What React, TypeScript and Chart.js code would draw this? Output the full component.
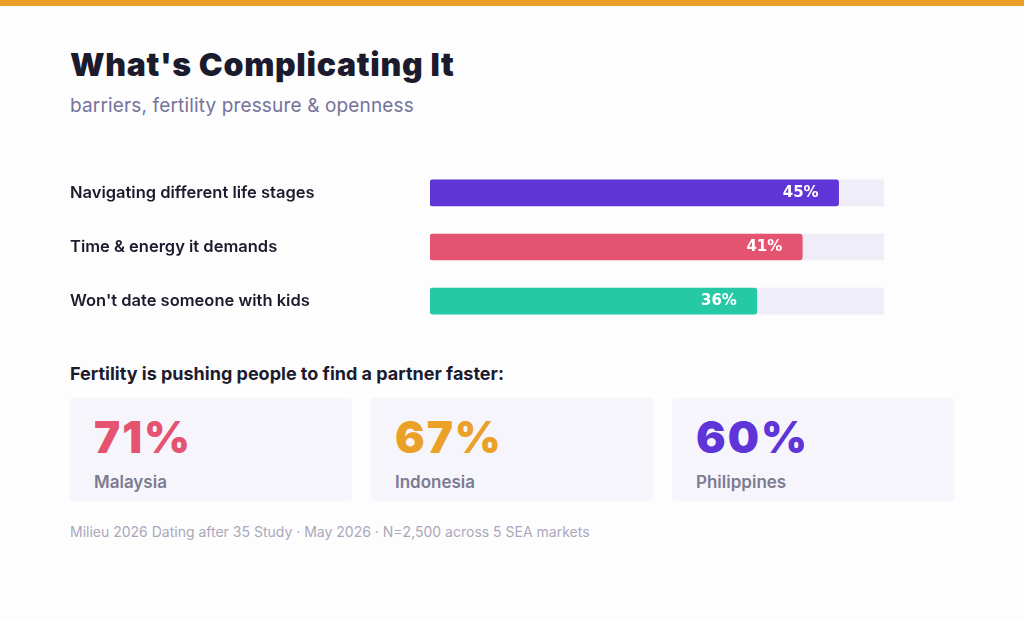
import React, { useEffect, useRef } from "react";
import { Chart, registerables } from "chart.js";

Chart.register(...registerables);

const barLabels = [
  "Navigating different life stages",
  "Time & energy it demands",
  "Won't date someone with kids",
];
const barValues = [45, 41, 36];
const barColors = ["#5F35D8", "#E4536F", "#26C9A6"];
const trackMax = 50;
const trackValues = [trackMax, trackMax, trackMax];

const statValues = [71, 67, 60];
const statCountries = ["Malaysia", "Indonesia", "Philippines"];
const statColors = ["#E4536F", "#EBA028", "#5F35D8"];

const FONT = "Inter, 'Noto Sans', sans-serif";

const valueLabelPlugin = {
  id: "valueLabels",
  afterDatasetsDraw(chart: any) {
    const ctx = chart.ctx;
    const meta = chart.getDatasetMeta(0);
    ctx.save();
    ctx.fillStyle = "#FFFFFF";
    ctx.font = "bold 15px 'DejaVu Sans', sans-serif";
    ctx.textAlign = "right";
    ctx.textBaseline = "middle";
    meta.data.forEach((bar: any, i: number) => {
      ctx.fillText(barValues[i] + "%", bar.x - 20, bar.y);
    });
    ctx.restore();
  },
};

export default function App() {
  const canvasRef = useRef<HTMLCanvasElement | null>(null);

  useEffect(() => {
    if (!canvasRef.current) return;
    const chart = new Chart(canvasRef.current, {
      type: "bar",
      data: {
        labels: barLabels,
        datasets: [
          {
            data: barValues,
            backgroundColor: barColors,
            borderRadius: 3,
            borderSkipped: false,
            barThickness: 26,
            grouped: false,
            order: 1,
          } as any,
          {
            data: trackValues,
            backgroundColor: "#EFEDF7",
            borderRadius: 0,
            barThickness: 26,
            grouped: false,
            order: 2,
          } as any,
        ],
      },
      options: {
        indexAxis: "y",
        animation: false,
        responsive: false,
        maintainAspectRatio: false,
        layout: { padding: 0 },
        plugins: {
          legend: { display: false },
          tooltip: { enabled: false },
        },
        scales: {
          x: { display: false, min: 0, max: trackMax },
          y: {
            grid: { display: false },
            border: { display: false },
            afterFit(scale: any) {
              scale.width = 360;
            },
            ticks: {
              crossAlign: "far",
              padding: 0,
              color: "#1C1B2E",
              font: { family: FONT, size: 16.5, weight: 600 },
            },
          },
        },
      },
      plugins: [valueLabelPlugin],
    });
    return () => chart.destroy();
  }, []);

  return (
    <div
      style={{
        position: "absolute",
        left: 0,
        top: 0,
        width: 1024,
        height: 620,
        background: "#FDFDFE",
        fontFamily: FONT,
        overflow: "hidden",
      }}
    >
      <div style={{ position: "absolute", left: 0, top: 0, width: 1024, height: 6, background: "#EBA028" }} />
      <div
        style={{
          position: "absolute",
          left: 70,
          top: 45,
          fontSize: 32,
          fontWeight: 900,
          color: "#1C1B2E",
          letterSpacing: 0.7,
          whiteSpace: "nowrap",
        }}
      >
        What's Complicating It
      </div>
      <div
        style={{
          position: "absolute",
          left: 70,
          top: 94,
          fontSize: 19,
          fontWeight: 400,
          color: "#75739A",
          letterSpacing: 0.15,
          whiteSpace: "nowrap",
        }}
      >
        barriers, fertility pressure &amp; openness
      </div>
      <canvas
        ref={canvasRef}
        width={814}
        height={182}
        style={{ position: "absolute", left: 70, top: 156, width: 814, height: 182 }}
      />
      <div
        style={{
          position: "absolute",
          left: 70,
          top: 363,
          fontSize: 18,
          fontWeight: 700,
          color: "#1C1B2E",
          whiteSpace: "nowrap",
        }}
      >
        Fertility is pushing people to find a partner faster:
      </div>
      {statValues.map((v, i) => (
        <div
          key={i}
          style={{
            position: "absolute",
            left: 70 + i * 301,
            top: 398,
            width: 282,
            height: 103,
            background: "#F6F5FC",
            borderRadius: 4,
          }}
        >
          <div
            style={{
              position: "absolute",
              left: 24,
              top: 13,
              fontSize: 44,
              fontWeight: 900,
              color: statColors[i],
              lineHeight: "52px",
              letterSpacing: 2,
              whiteSpace: "nowrap",
            }}
          >
            {v}%
          </div>
          <div
            style={{
              position: "absolute",
              left: 24,
              top: 74,
              fontSize: 17,
              fontWeight: 600,
              color: "#7C7B90",
              whiteSpace: "nowrap",
            }}
          >
            {statCountries[i]}
          </div>
        </div>
      ))}
      <div
        style={{
          position: "absolute",
          left: 70,
          top: 523,
          fontSize: 14,
          color: "#A9A8BC",
          whiteSpace: "nowrap",
        }}
      >
        Milieu 2026 Dating after 35 Study · May 2026 · N=2,500 across 5 SEA markets
      </div>
    </div>
  );
}
